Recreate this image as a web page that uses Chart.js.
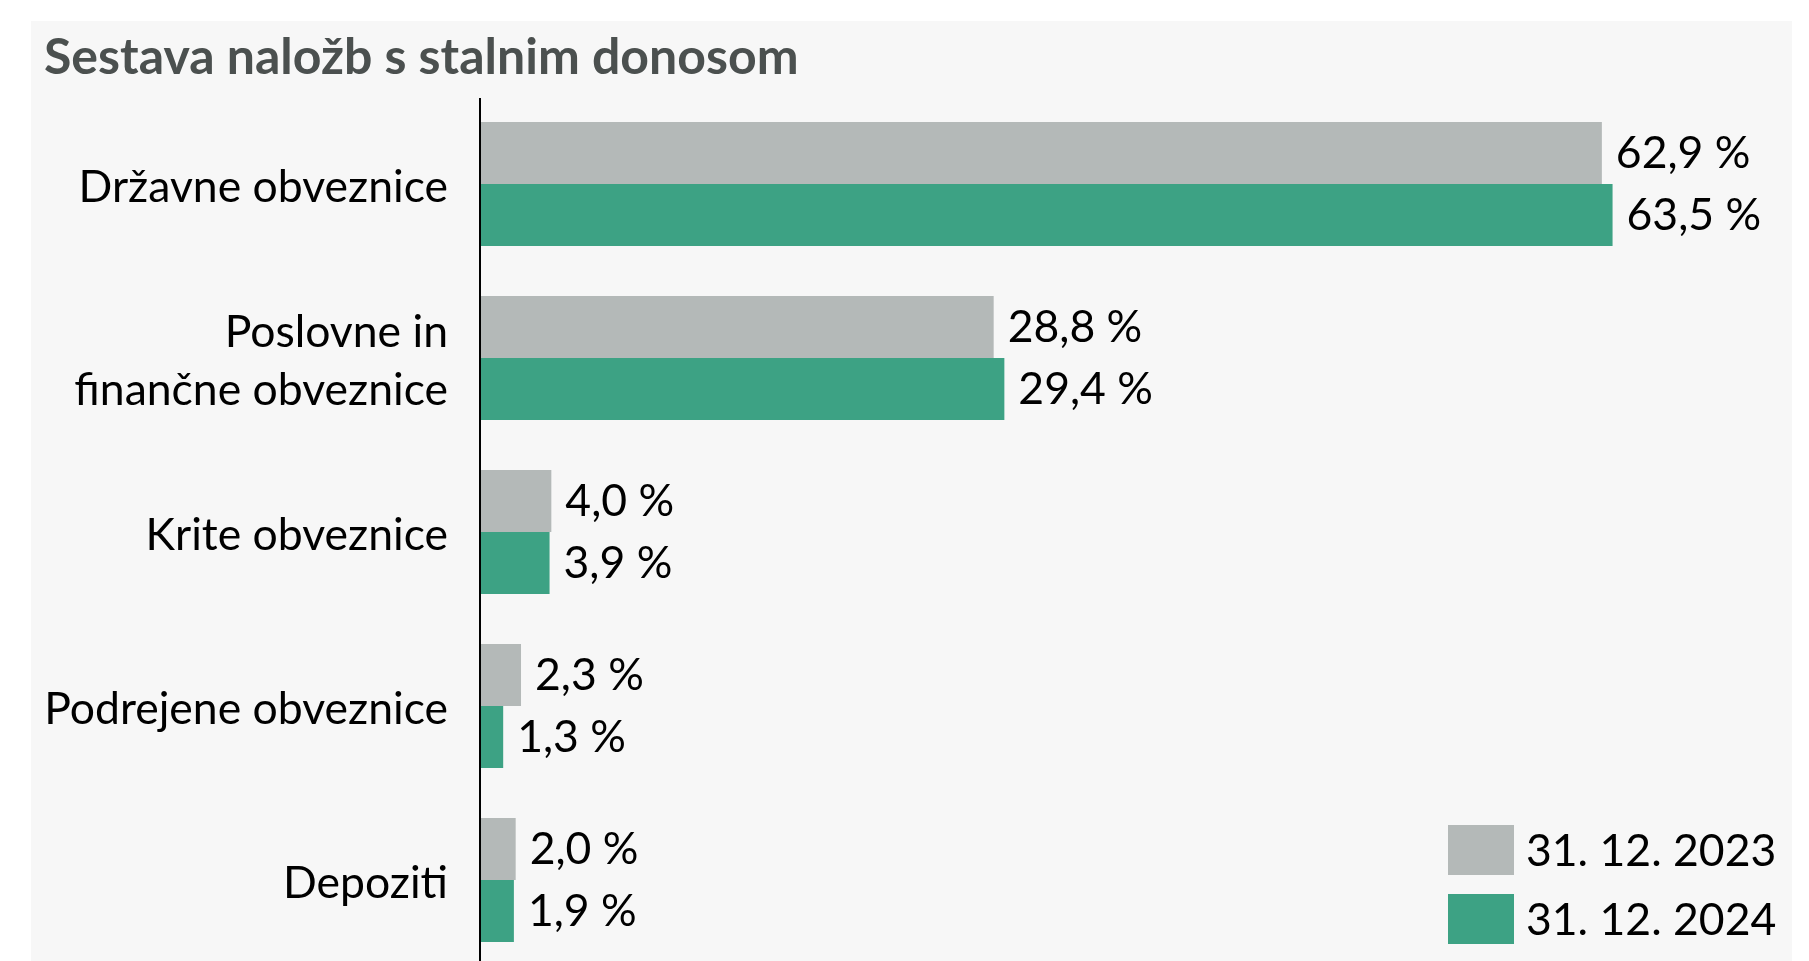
<!DOCTYPE html>
<html>
<head>
<meta charset="utf-8">
<script src="https://cdn.jsdelivr.net/npm/chart.js@4.4.1/dist/chart.umd.min.js"></script>
<style>
  html, body { margin: 0; padding: 0; background: #ffffff; overflow: hidden; }
  #wrap { position: absolute; left: 0; top: 0; width: 1809px; height: 1028px; }
</style>
</head>
<body>
<div id="wrap"><canvas id="c" width="1809" height="1028"></canvas></div>
<script>
const titleText = "Sestava naložb s stalnim donosom";
const categories = [
  "Državne obveznice",
  ["Poslovne in", "finančne obveznice"],
  "Krite obveznice",
  "Podrejene obveznice",
  "Depoziti"
];
const seriesLabels = ["31. 12. 2023", "31. 12. 2024"];
const values2023 = [62.9, 28.8, 4.0, 2.3, 2.0];
const values2024 = [63.5, 29.4, 3.9, 1.3, 1.9];
const seriesColors = ["#b4b9b8", "#3da284"];

const FONT = "Lato, 'Open Sans', sans-serif";
const LABEL_SIZE = 44.5;

function fmt(v) { return v.toFixed(1).replace('.', ',') + ' %'; }

const bgPlugin = {
  id: 'bg',
  beforeDraw(chart) {
    const ctx = chart.ctx;
    ctx.save();
    ctx.fillStyle = '#ffffff';
    ctx.fillRect(0, 0, chart.width, chart.height);
    ctx.fillStyle = '#f7f7f7';
    ctx.fillRect(31, 21, 1761, chart.height - 21);
    ctx.fillStyle = '#4b504f';
    ctx.font = "bold 50px " + FONT;
    ctx.textBaseline = 'alphabetic';
    ctx.textAlign = 'left';
    ctx.fillText(titleText, 44, 74);
    ctx.restore();
  }
};

const labelPlugin = {
  id: 'vlabels',
  afterDatasetsDraw(chart) {
    const ctx = chart.ctx;
    ctx.save();
    ctx.fillStyle = '#000000';
    ctx.font = LABEL_SIZE + "px " + FONT;
    ctx.textBaseline = 'middle';
    ctx.textAlign = 'left';
    chart.data.datasets.forEach((ds, di) => {
      const meta = chart.getDatasetMeta(di);
      meta.data.forEach((bar, i) => {
        ctx.fillText(fmt(ds.data[i]), bar.x + 14, bar.y + 1);
      });
    });
    // axis line
    const x0 = chart.scales.x.getPixelForValue(0);
    ctx.strokeStyle = '#000000';
    ctx.lineWidth = 2;
    ctx.beginPath();
    ctx.moveTo(x0, 98);
    ctx.lineTo(x0, chart.height);
    ctx.stroke();
    // legend
    const boxX = 1448, boxW = 66, boxH = 50;
    const tops = [825, 894];
    chart.data.datasets.forEach((ds, di) => {
      ctx.fillStyle = ds.backgroundColor;
      ctx.fillRect(boxX, tops[di], boxW, boxH);
      ctx.fillStyle = '#000000';
      ctx.fillText(ds.label, 1526, tops[di] + boxH / 2 + 2);
    });
    ctx.restore();
  }
};

new Chart(document.getElementById('c'), {
  type: 'bar',
  data: {
    labels: categories,
    datasets: [
      { label: seriesLabels[0], data: values2023, backgroundColor: seriesColors[0] },
      { label: seriesLabels[1], data: values2024, backgroundColor: seriesColors[1] }
    ]
  },
  options: {
    indexAxis: 'y',
    responsive: false,
    animation: false,
    devicePixelRatio: 1,
    layout: { padding: { top: 97, bottom: 11, left: 0, right: 27 } },
    datasets: { bar: { categoryPercentage: 0.713, barPercentage: 1.0, borderWidth: 0 } },
    scales: {
      x: { display: false, min: 0, max: 73 },
      y: {
        grid: { display: false, drawTicks: false },
        border: { display: false },
        ticks: {
          color: '#000000',
          font: { family: FONT, size: LABEL_SIZE, lineHeight: 1.3 },
          padding: 32,
          labelOffset: 4
        },
        afterFit(scale) { scale.width = 480; }
      }
    },
    plugins: {
      legend: { display: false },
      title: { display: false },
      tooltip: { enabled: false }
    }
  },
  plugins: [bgPlugin, labelPlugin]
});
</script>
</body>
</html>
